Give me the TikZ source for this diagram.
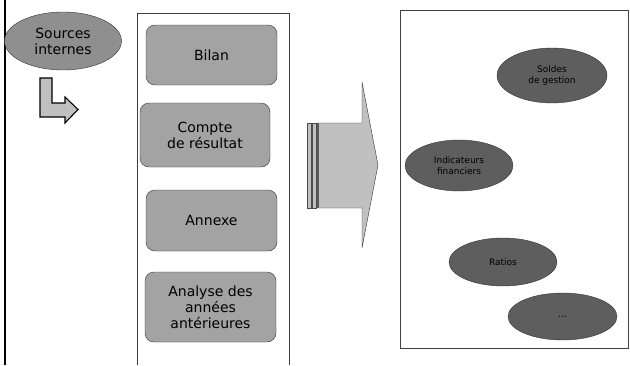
\documentclass[tikz,border=0pt]{standalone}
\usepackage{fontspec}
\setmainfont{DejaVu Sans}
\usetikzlibrary{shapes.geometric}
\definecolor{srcgray}{HTML}{8F8F8F}
\definecolor{docgray}{HTML}{A3A3A3}
\definecolor{resgray}{HTML}{5E5E5E}
\definecolor{arrowgray}{HTML}{C0C0C0}
\begin{document}
\begin{tikzpicture}[x=1pt, y=-1pt,
    source/.style={ellipse, draw=black!80, fill=srcgray, inner sep=0pt, align=center,
      font=\fontsize{14}{16}\selectfont},
    docbox/.style={rectangle, rounded corners=9pt, draw=black!80, fill=docgray, inner sep=0pt,
      minimum width=131pt, align=center, font=\fontsize{14}{16}\selectfont},
    result/.style={ellipse, draw=black!80, fill=resgray, inner sep=0pt, align=center,
      font=\fontsize{9}{11}\selectfont},
    frame/.style={draw=black!75, line width=0.9pt}]
    \useasboundingbox (0,0) rectangle (630,365);
    \draw[line width=2pt] (5,0) -- (5,365);
    \node[source, minimum width=117pt, minimum height=58pt] (sources) at (63,41) {Sources\\internes};
    \draw[fill=arrowgray, line width=1.1pt, line join=miter] (40,78) -- (52,78) -- (52,103) -- (65,103) -- (65,97)
      -- (78,109.5) -- (65,123) -- (65,117) -- (40,117) -- cycle;
    % documents
    \draw[frame] (137,365) -- (137,13) -- (289,13) -- (289,365);
    \node[docbox, minimum height=60pt] (bilan) at (211.5,55) {Bilan};
    \node[docbox, minimum width=130pt, minimum height=64pt] (compte) at (205,135) {Compte\\de résultat};
    \node[docbox, minimum height=61pt] (annexe) at (211.5,220.5) {Annexe};
    \node[docbox, minimum height=70pt] (analyse) at (210.5,307) {Analyse des\\années\\antérieures};
    % big arrow
    \draw[fill=arrowgray, draw=black!80] (318,123) -- (362,123) -- (362,82) -- (378,165) -- (362,248)
      -- (362,208) -- (318,208) -- cycle;
    \draw[fill=arrowgray, draw=black!70] (307.5,123) rectangle (311,208);
    \draw[fill=arrowgray, draw=black!70] (312.5,123) rectangle (316.5,208);
    \draw[black!65, line width=1.5pt] (318,123) -- (318,208);
    % results
    \draw[frame] (400,10) rectangle (628,348);
    \node[result, minimum width=110pt, minimum height=55pt] (soldes) at (552,75.5) {Soldes\\de gestion};
    \node[result, minimum width=108pt, minimum height=51pt] (indic) at (459,165.5) {Indicateurs\\financiers};
    \node[result, minimum width=108pt, minimum height=48pt] (ratios) at (503,262) {Ratios};
    \node[result, minimum width=109pt, minimum height=47pt] (etc) at (562.5,316.5) {...};
\end{tikzpicture}
\end{document}
